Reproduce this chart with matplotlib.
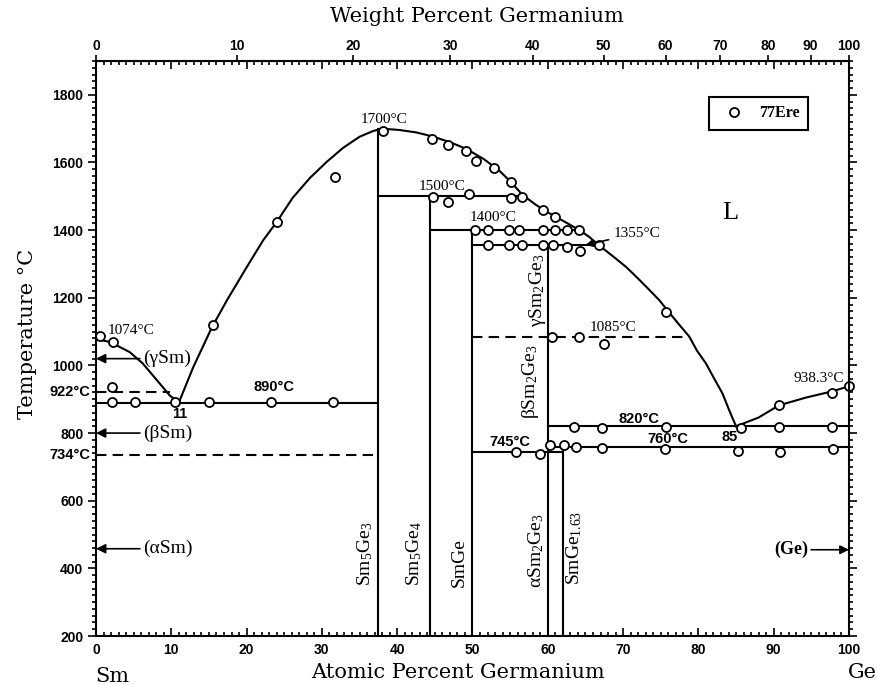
import matplotlib
matplotlib.use('Agg')
import matplotlib.pyplot as plt
from matplotlib.ticker import MultipleLocator

plt.rcParams['mathtext.fontset'] = 'custom'
plt.rcParams['mathtext.rm'] = 'Liberation Serif'
plt.rcParams['mathtext.it'] = 'Liberation Serif:italic'

# liquidus branches (at.% Ge, deg C)
liq_sm_x = [0, 1.9, 4.5, 6.2, 8.1, 9.8, 11]
liq_sm_t = [1078, 1069, 1039, 1006, 956, 911, 890]

liq_mid_x = [11, 12.9, 15.4, 17.4, 20, 22.2, 24, 26.1, 28.4, 30.6, 32.8, 35, 36.8, 38,
             40.3, 42.5, 44.7, 47, 49.2, 51.5, 53.6, 55.2, 56.6, 58.4, 60.2, 62.3, 64.2,
             65.5, 66.8, 68.8, 70.4, 71.8, 73.1, 74.8, 76.1, 77.5, 78.8, 79.8, 81, 82.1,
             83.2, 84.1, 85]
liq_mid_t = [890, 994, 1113, 1193, 1290, 1370, 1424, 1495, 1554, 1601, 1643, 1676, 1693, 1700,
             1696, 1689, 1677, 1660, 1640, 1610, 1575, 1540, 1505, 1475, 1450, 1424, 1400,
             1380, 1355, 1320, 1291, 1261, 1232, 1193, 1157, 1119, 1085, 1044, 1006, 961,
             917, 867, 820]

liq_ge_x = [85, 88, 90.7, 94.3, 97.7, 100]
liq_ge_t = [820, 846, 882, 905, 923, 938.3]

# invariant / transformation lines: (x_start, x_end, temperature)
solid_h = [(0, 37.5, 890), (37.5, 56.6, 1500), (44.4, 64.2, 1400), (50, 66.6, 1355),
           (50, 62, 745), (60, 100, 760), (60, 100, 820)]
dashed_h = [(0, 9.8, 922), (0, 37.5, 734), (50, 78.8, 1085)]

# compounds: composition and top of the line
comp_x = [37.5, 44.4, 50, 60, 62]
comp_top = [1700, 1500, 1400, 1355, 760]

# 77Ere data points
pts_x = [0.5, 2.3, 2.1,
         2.1, 5.2, 10.5, 15.0, 23.3, 31.5,
         15.5, 24.1, 31.7, 38.1,
         44.6, 46.8, 49.2, 50.5, 52.9, 55.1,
         44.7, 46.7, 49.6, 55.1, 56.6, 59.3, 61.0,
         50.3, 52.1, 54.9, 56.2, 59.3, 60.9, 62.5, 64.2,
         52.1, 54.8, 56.6, 59.3, 60.7, 62.6, 64.3, 66.8,
         75.7, 60.6, 64.2, 67.4,
         63.5, 67.2, 75.7, 85.7, 90.7, 97.7,
         55.8, 58.9, 60.3, 62.2, 63.8, 67.2, 75.5, 85.3, 90.8, 97.9,
         90.7, 97.7, 100]
pts_t = [1086, 1068, 935,
         893, 893, 893, 893, 893, 893,
         1119, 1424, 1557, 1693,
         1670, 1652, 1634, 1604, 1583, 1543,
         1498, 1483, 1507, 1496, 1498, 1459, 1439,
         1400, 1400, 1400, 1400, 1400, 1400, 1400, 1400,
         1355, 1355, 1355, 1355, 1355, 1350, 1337, 1355,
         1157, 1083, 1083, 1062,
         819, 815, 819, 816, 819, 819,
         745, 739, 766, 766, 760, 757, 754, 748, 745, 754,
         882, 917, 938]

fig = plt.figure(figsize=(8.78, 6.85), dpi=100)
ax = fig.add_axes([96 / 878, 1 - 636 / 685, 753 / 878, 575 / 685])

lw = 1.5
dash = (0, (5, 3))
ax.plot(liq_sm_x, liq_sm_t, color='k', lw=lw)
ax.plot(liq_mid_x, liq_mid_t, color='k', lw=lw)
ax.plot(liq_ge_x, liq_ge_t, color='k', lw=lw)
for x0, x1, t in solid_h:
    ax.plot([x0, x1], [t, t], color='k', lw=lw)
for x0, x1, t in dashed_h:
    ax.plot([x0, x1], [t, t], color='k', lw=lw, ls=dash)
for x, top in zip(comp_x, comp_top):
    ax.plot([x, x], [200, top], color='k', lw=lw)

ax.plot(pts_x, pts_t, 'o', ls='none', mfc='white', mec='k', ms=6.5, mew=1.3,
        label='77Ere', clip_on=False)

ax.set_xlim(0, 100)
ax.set_ylim(200, 1900)
for s in ax.spines.values():
    s.set_linewidth(1.5)

ax.set_xticks(range(0, 101, 10))
ax.xaxis.set_minor_locator(MultipleLocator(1))
ax.set_yticks(range(200, 1801, 200))
ax.yaxis.set_minor_locator(MultipleLocator(20))
ax.tick_params(axis='x', which='both', direction='in', top=True, width=1.2)
ax.tick_params(axis='x', which='major', length=6, pad=5)
ax.tick_params(axis='x', which='minor', length=3)
ax.tick_params(axis='y', which='both', direction='out', right=True, width=1.2)
ax.tick_params(axis='y', which='major', length=6, pad=3)
ax.tick_params(axis='y', which='minor', length=3)
for lab in ax.get_xticklabels() + ax.get_yticklabels():
    lab.set_fontfamily('Liberation Sans')
    lab.set_fontweight('bold')
    lab.set_fontsize(10)


def at2wt(x):
    return 100 * x * 72.63 / (x * 72.63 + (100 - x) * 150.36)


def wt2at(w):
    return 100 * (w / 72.63) / (w / 72.63 + (100 - w) / 150.36)


sec = ax.secondary_xaxis('top', functions=(at2wt, wt2at))
sec.set_xticks(range(0, 101, 10))
sec.tick_params(direction='out', length=4, width=1.2, pad=2)
for lab in sec.get_xticklabels():
    lab.set_fontfamily('Liberation Sans')
    lab.set_fontweight('bold')
    lab.set_fontsize(10)

leg = ax.legend(loc='upper right', bbox_to_anchor=(0.946, 0.938), frameon=True,
                fancybox=False, edgecolor='k', framealpha=1, borderaxespad=0,
                handlelength=2.1, handletextpad=0.5, borderpad=0.55,
                prop={'family': 'Liberation Serif', 'weight': 'bold', 'size': 11.5})
leg.get_frame().set_linewidth(1.5)

serif = 'Liberation Serif'
bold = dict(family='Liberation Sans', fontweight='bold', fontsize=10.5)

# temperature labels
ax.text(1.5, 1104, '1074°C', family=serif, fontsize=11, ha='left', va='center')
ax.text(38.3, 1727, '1700°C', family=serif, fontsize=11, ha='center', va='center')
ax.text(46, 1528, '1500°C', family=serif, fontsize=11, ha='center', va='center')
ax.text(52.7, 1436, '1400°C', family=serif, fontsize=11, ha='center', va='center')
ax.text(68.6, 1113, '1085°C', family=serif, fontsize=11, ha='center', va='center')
ax.text(96, 962, '938.3°C', family=serif, fontsize=11, ha='center', va='center')
ax.annotate('1355°C', xy=(65.0, 1356), xytext=(68.8, 1391), family=serif, fontsize=11,
            ha='left', va='center',
            arrowprops=dict(arrowstyle='-|>', color='k', lw=1.2, shrinkA=2, shrinkB=0))
ax.text(23.7, 935, '890°C', ha='center', va='center', **bold)
ax.text(72.1, 843, '820°C', ha='center', va='center', **bold)
ax.text(75.9, 783, '760°C', ha='center', va='center', **bold)
ax.text(54.9, 775, '745°C', ha='center', va='center', **bold)
ax.text(11.1, 857, '11', ha='center', va='center', **bold)
ax.text(84.1, 787, '85', ha='center', va='center', **bold)
ax.text(-0.8, 922, '922°C', ha='right', va='center', **bold)
ax.text(-0.8, 734, '734°C', ha='right', va='center', **bold)

# allotropes of the pure elements
for label, t in [('(γSm)', 1020), ('(βSm)', 800), ('(αSm)', 458)]:
    ax.annotate(label, xy=(0, t), xytext=(6.2, t), family=serif, fontsize=14,
                ha='left', va='center',
                arrowprops=dict(arrowstyle='-|>', color='k', lw=1.2, shrinkA=0, shrinkB=0))
ax.annotate('(Ge)', xy=(100, 455), xytext=(94.6, 455), family=serif, fontsize=13,
            fontweight='bold', ha='right', va='center',
            arrowprops=dict(arrowstyle='-|>', color='k', lw=1.2, shrinkA=0, shrinkB=0))

ax.text(84.3, 1450, 'L', family=serif, fontsize=19, ha='center', va='center')

# compound labels
ax.text(35.7, 443, 'Sm$_5$Ge$_3$', family=serif, fontsize=14, rotation=90, ha='center', va='center')
ax.text(42.3, 443, 'Sm$_5$Ge$_4$', family=serif, fontsize=14, rotation=90, ha='center', va='center')
ax.text(48.3, 416, 'SmGe', family=serif, fontsize=14, rotation=90, ha='center', va='center')
ax.text(58.5, 452, 'αSm$_2$Ge$_3$', family=serif, fontsize=14, rotation=90, ha='center', va='center')
ax.text(63.5, 461, 'SmGe$_{1.63}$', family=serif, fontsize=14, rotation=90, ha='center', va='center')
ax.text(58.6, 1222, 'γSm$_2$Ge$_3$', family=serif, fontsize=14, rotation=90, ha='center', va='center')
ax.text(57.7, 952, 'βSm$_2$Ge$_3$', family=serif, fontsize=14, rotation=90, ha='center', va='center')

# axis titles
title_font = dict(family='DejaVu Serif', fontsize=15, ha='center', va='center')
fig.text(458 / 878, 1 - 672 / 685, 'Atomic Percent Germanium', **title_font)
fig.text(477 / 878, 1 - 17 / 685, 'Weight Percent Germanium', **title_font)
fig.text(28 / 878, 1 - 334 / 685, 'Temperature °C', rotation=90, **title_font)
fig.text(112 / 878, 1 - 677 / 685, 'Sm', **title_font)
fig.text(862 / 878, 1 - 673 / 685, 'Ge', **title_font)

fig.savefig('out.png', dpi=100)
